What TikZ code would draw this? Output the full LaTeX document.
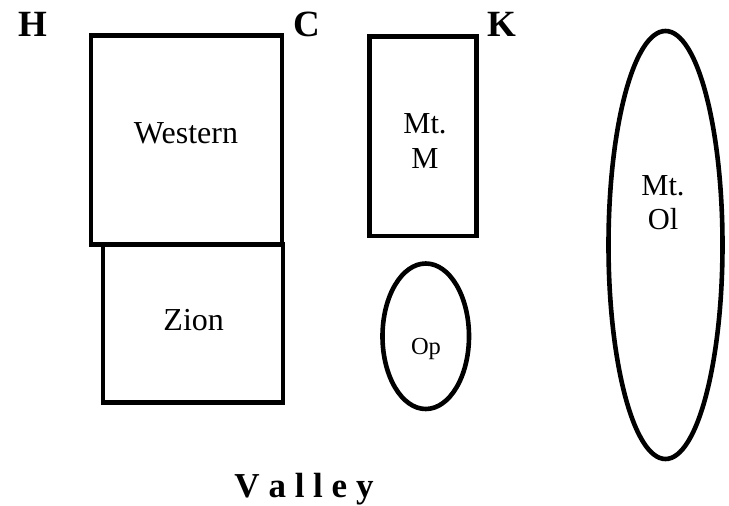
\documentclass[tikz,border=0pt]{standalone}
\usepackage{fontspec}
\setmainfont{Liberation Serif}
\begin{document}
\begin{tikzpicture}[x=1pt,y=-1pt,
  shapeline/.style={draw=black, line width=4.6pt},
  lbl/.style={inner sep=0pt, anchor=base, font=\rmfamily\fontsize{32}{36}\selectfont},
  twolbl/.style={inner sep=0pt, anchor=center, align=center, font=\rmfamily\fontsize{30.5}{34.5}\selectfont},
  corner/.style={inner sep=0pt, anchor=base, font=\rmfamily\fontsize{37}{40}\selectfont\bfseries}]
\useasboundingbox (0,0) rectangle (729,506);
% shapes
\draw[shapeline] (103,244.5) rectangle (283,402.5);
\draw[shapeline] (91,35.5) rectangle (282,244.5);
\draw[shapeline] (369.5,36.5) rectangle (476.5,236);
\draw[shapeline] (425.75,336.25) ellipse [x radius=43.25, y radius=72.75];
\draw[shapeline] (665.5,245) ellipse [x radius=57, y radius=214];
% labels
\node[lbl] (western) at (186,143) {Western};
\node[lbl] (zion) at (193.7,330) {Zion};
\node[twolbl] (mtm) at (425,141) {Mt.\\M};
\node[twolbl] (mtol) at (663,202.5) {Mt.\\Ol};
\node[lbl, font=\rmfamily\fontsize{24.5}{28}\selectfont] (op) at (426,354) {Op};
\node[corner] (h) at (32.4,36) {H};
\node[corner] (c) at (307,36) {C};
\node[corner] (k) at (502,36) {K};
\node[inner sep=0pt, anchor=base, font=\rmfamily\fontsize{35}{40}\selectfont\bfseries] (valley) at (304,497) {V a l l e y};
\end{tikzpicture}
\end{document}
